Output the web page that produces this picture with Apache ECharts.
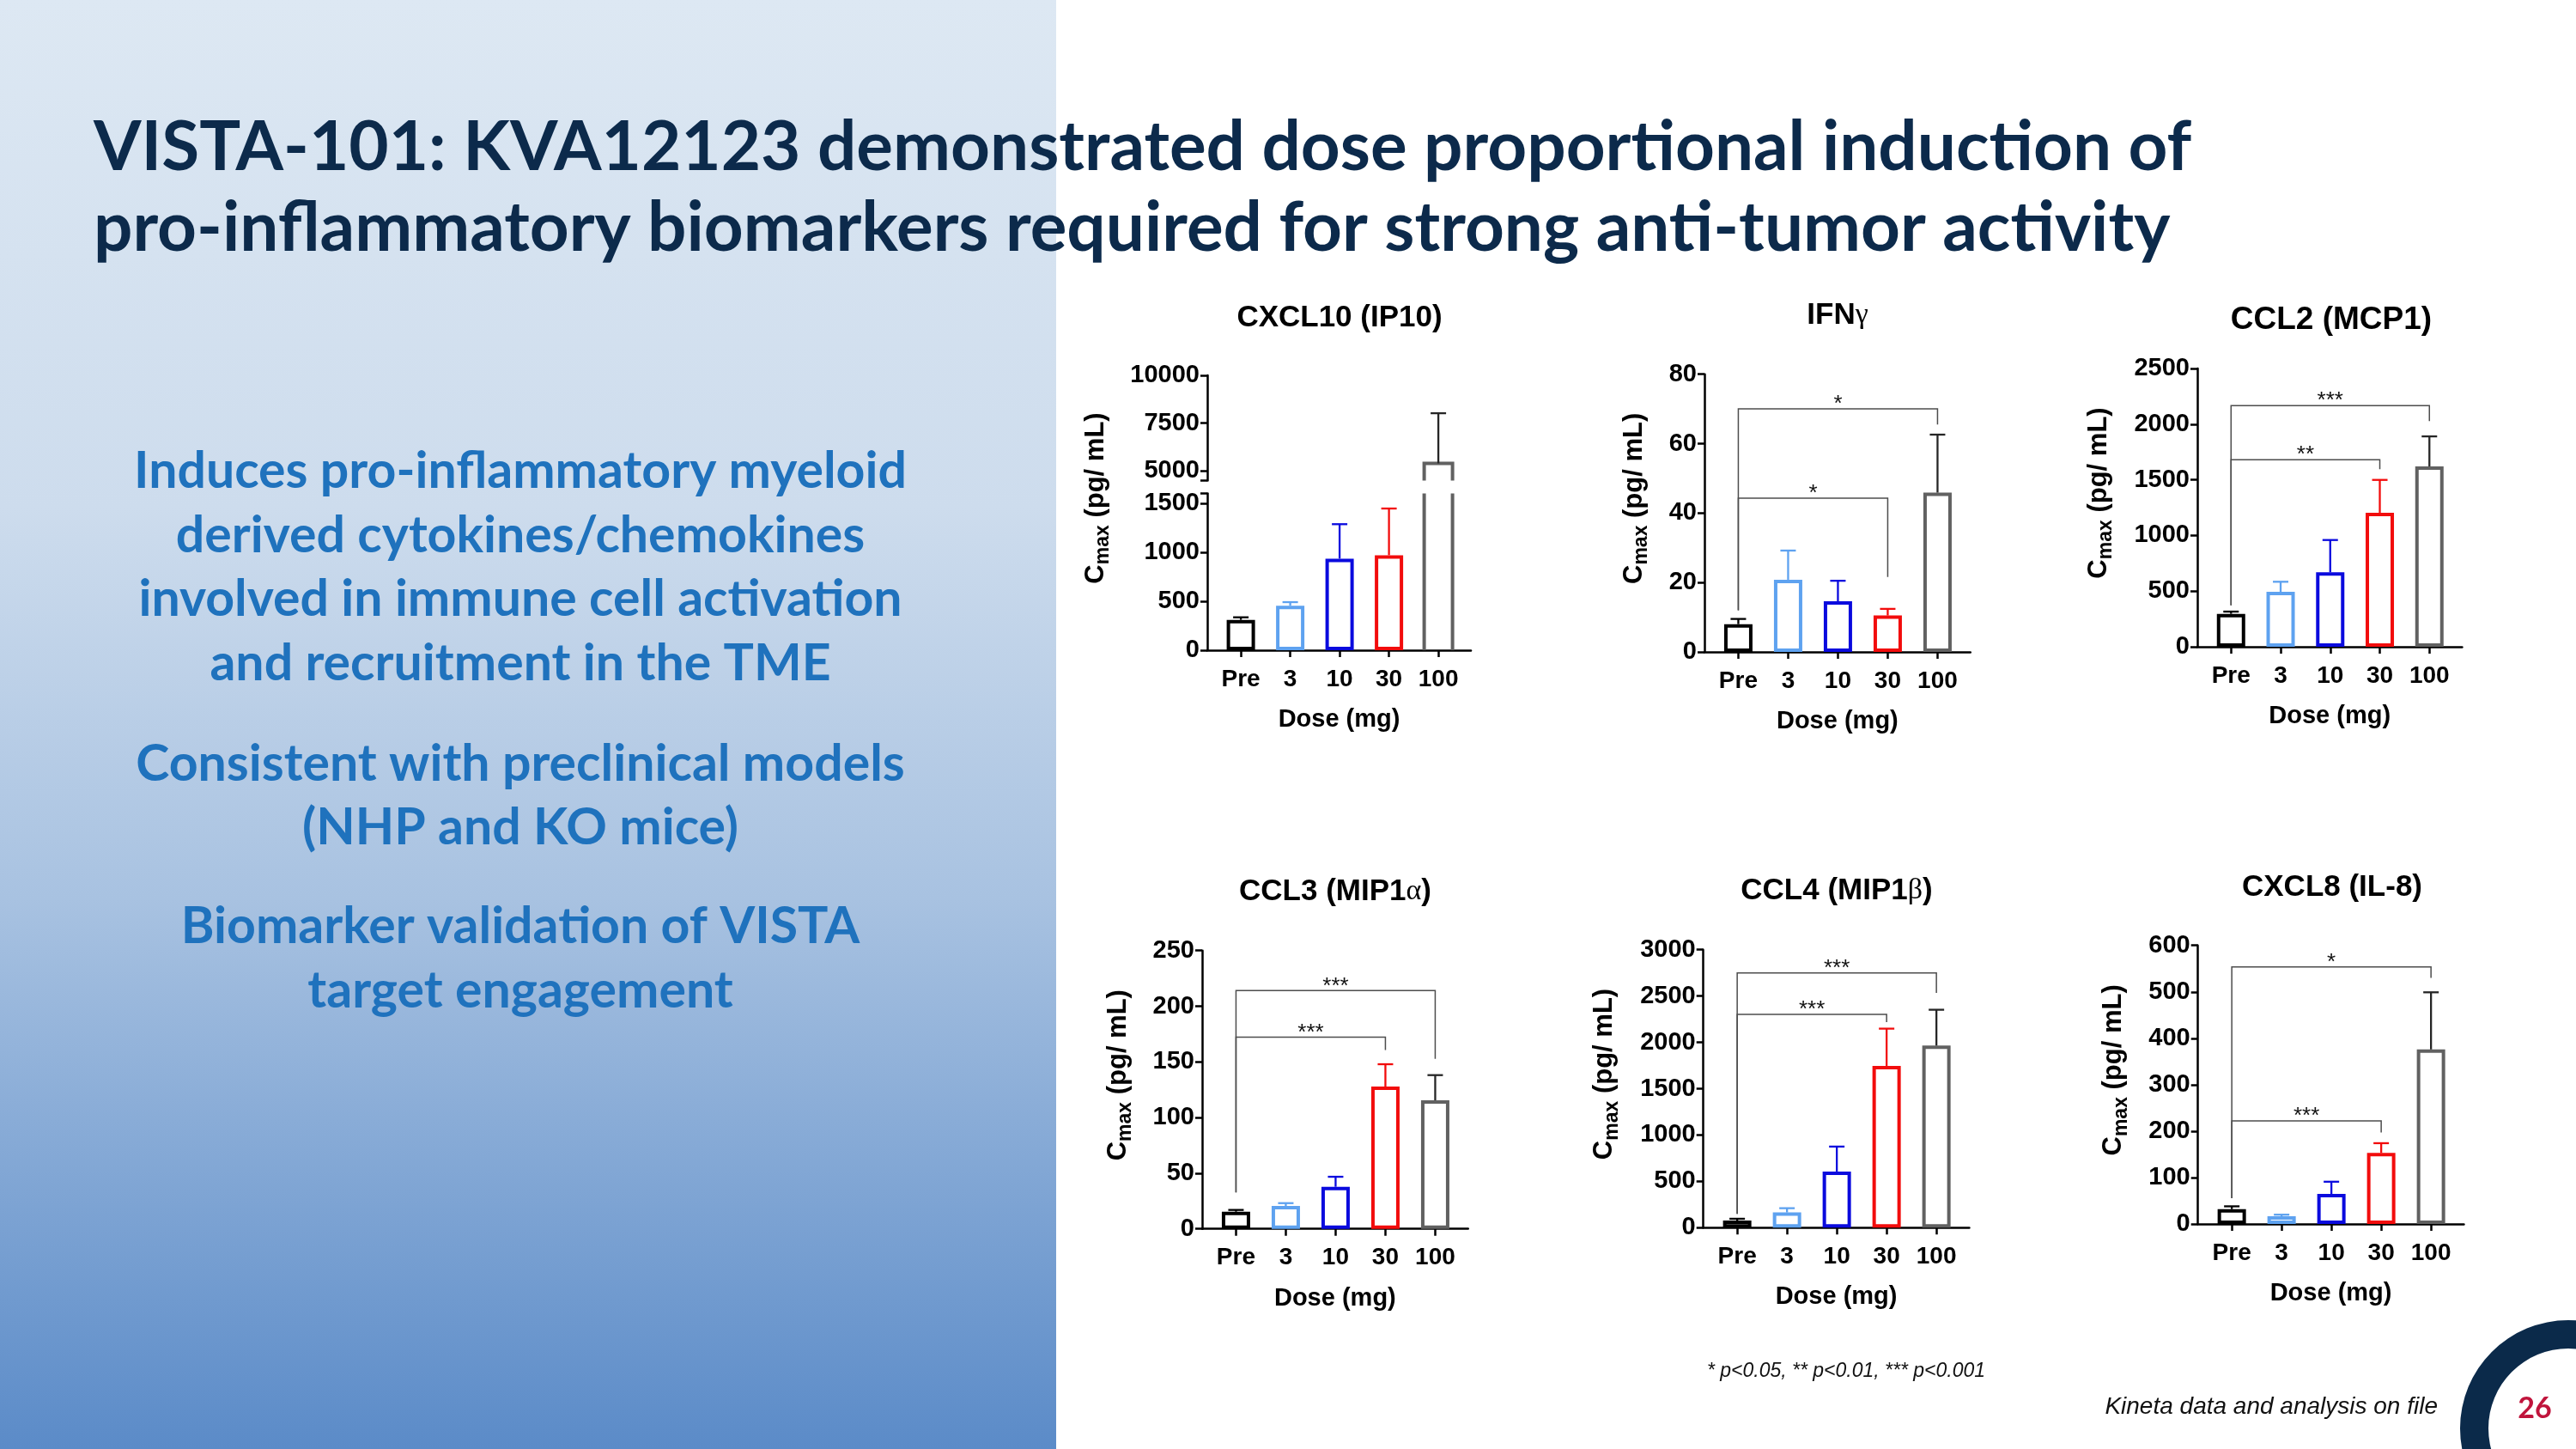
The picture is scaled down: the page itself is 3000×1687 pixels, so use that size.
<!DOCTYPE html>
<html><head><meta charset="utf-8">
<script src="https://cdn.jsdelivr.net/npm/echarts@6.0.0/dist/echarts.min.js"></script>
<style>html,body{margin:0;padding:0;background:#fff}#c{width:3000px;height:1687px}</style>
</head><body><div id="c"></div>
<script>
// ================= DATA =================
const categories = ['Pre', '3', '10', '30', '100'];

const cxcl10Mean  = [310, 455, 935, 970, 5400];
const cxcl10Upper = [336, 491, 1287, 1447, 8020];
const cxcl10TicksLow  = [0, 500, 1000, 1500];
const cxcl10TicksHigh = [5000, 7500, 10000];
const cxcl10BreakLow  = 1600;
const cxcl10BreakHigh = 4500;

const ifngMean  = [8.0, 20.8, 14.6, 10.5, 45.9];
const ifngUpper = [9.5, 29.2, 20.5, 12.4, 62.6];
const ifngTicks = [0, 20, 40, 60, 80];
// [target index, start value, bracket level, end value, label]
const ifngBrackets = [[4, 12, 70, 65.5, '*'], [3, 12, 44.3, 21.6, '*']];

const ccl2Mean  = [296, 494, 669, 1204, 1620];
const ccl2Upper = [316, 584, 959, 1499, 1890];
const ccl2Ticks = [0, 500, 1000, 1500, 2000, 2500];
const ccl2Brackets = [[4, 373, 2166, 2027, '***'], [3, 373, 1680, 1595, '**']];

const ccl3Mean  = [15.4, 20.6, 37.8, 127.8, 115.5];
const ccl3Upper = [17.0, 23.1, 46.8, 147.9, 138.1];
const ccl3Ticks = [0, 50, 100, 150, 200, 250];
const ccl3Brackets = [[4, 32.7, 214, 152.8, '***'], [3, 32.7, 172.3, 160.7, '***']];

const ccl4Mean  = [77, 164, 606, 1746, 1965];
const ccl4Upper = [96, 210, 875, 2148, 2352];
const ccl4Ticks = [0, 500, 1000, 1500, 2000, 2500, 3000];
const ccl4Brackets = [[4, 148, 2750, 2534, '***'], [3, 148, 2302, 2219, '***']];

const cxcl8Mean  = [32, 16.6, 64.7, 153, 376];
const cxcl8Upper = [38, 20, 91, 174, 499];
const cxcl8Ticks = [0, 100, 200, 300, 400, 500, 600];
const cxcl8Brackets = [[4, 55.5, 553.6, 530, '*'], [3, 55.5, 222, 197, '***']];

// ================= STYLE / LAYOUT =================
const FONT = '"Liberation Sans", Arial, Helvetica, sans-serif';
const SLIDE_FONT = 'Lato, "Noto Sans", sans-serif';
const barColors = ['#000000', '#5ea2f0', '#0a0ade', '#f20c0c', '#616161'];
const errColors = ['#000000', '#5ea2f0', '#0a0ade', '#f20c0c', '#262626'];
const BAR_W = 33, BAR_HALF = BAR_W / 2, BORDER = 4, CAP = 9;
const XMIN = -0.68, XMAX = 4.66;

const panels = [
  { title: 'CXCL10 (IP10)', mean: cxcl10Mean, upper: cxcl10Upper, brackets: [],
    x: 1406, spacing: 57.5, titleX: 1560, titleY: 370, nameGap: 110,
    segments: [
      { top: 574.6, bottom: 757, min: 0, max: cxcl10BreakLow, ticks: cxcl10TicksLow.concat([cxcl10BreakLow]), labels: cxcl10TicksLow },
      { top: 437, bottom: 559.5, min: cxcl10BreakHigh, max: cxcl10TicksHigh[cxcl10TicksHigh.length - 1], ticks: [cxcl10BreakHigh].concat(cxcl10TicksHigh), labels: cxcl10TicksHigh }
    ] },
  { title: '{b|IFN}{g|γ}', mean: ifngMean, upper: ifngUpper, brackets: ifngBrackets,
    x: 1985, spacing: 58, titleX: 2140, titleY: 367, nameGap: 62,
    segments: [{ top: 435.7, bottom: 759, ticks: ifngTicks }] },
  { title: 'CCL2 (MCP1)', mean: ccl2Mean, upper: ccl2Upper, brackets: ccl2Brackets,
    x: 2559, spacing: 57.75, titleX: 2715, titleY: 373, nameGap: 95, wideTitle: true,
    segments: [{ top: 429, bottom: 753, ticks: ccl2Ticks }] },
  { title: '{b|CCL3 (MIP1}{g|α}{b|)}', mean: ccl3Mean, upper: ccl3Upper, brackets: ccl3Brackets,
    x: 1400, spacing: 58, titleX: 1555, titleY: 1038, nameGap: 78,
    segments: [{ top: 1106.7, bottom: 1430.7, ticks: ccl3Ticks }] },
  { title: '{b|CCL4 (MIP1}{g|β}{b|)}', mean: ccl4Mean, upper: ccl4Upper, brackets: ccl4Brackets,
    x: 1983.7, spacing: 58, titleX: 2139, titleY: 1037, nameGap: 95,
    segments: [{ top: 1105.7, bottom: 1429.3, ticks: ccl4Ticks }] },
  { title: 'CXCL8 (IL-8)', mean: cxcl8Mean, upper: cxcl8Upper, brackets: cxcl8Brackets,
    x: 2559.7, spacing: 58, titleX: 2716, titleY: 1033, nameGap: 78,
    segments: [{ top: 1100.7, bottom: 1425, ticks: cxcl8Ticks }] }
];

const catIdx = categories.map((c, i) => i);
const yNameText = '{c|C}{s|max}{c| (pg/ mL)}';
const yNameStyle = {
  padding: [0, 0, 0, 34],
  rich: {
    c: { fontFamily: FONT, fontWeight: 'bold', fontSize: 31, lineHeight: 40, color: '#000' },
    s: { fontFamily: FONT, fontWeight: 'bold', fontSize: 23, lineHeight: 20, verticalAlign: 'bottom', color: '#000' }
  }
};

function lineSty(c, w) { return { stroke: c, lineWidth: w }; }

function errRender(params, api) {
  const i = api.value(0), m = api.value(1), u = api.value(2);
  const p0 = api.coord([i, m]), p1 = api.coord([i, u]);
  const c = errColors[i];
  return { type: 'group', children: [
    { type: 'line', shape: { x1: p0[0], y1: p0[1], x2: p1[0], y2: p1[1] }, style: lineSty(c, 2.3) },
    { type: 'line', shape: { x1: p1[0] - CAP, y1: p1[1], x2: p1[0] + CAP, y2: p1[1] }, style: lineSty(c, 2.3) }
  ] };
}

function makeBracketRender(list) {
  return function (params, api) {
    const to = api.value(0), s = api.value(1), lv = api.value(2), e = api.value(3);
    const a = api.coord([0, s]), b = api.coord([0, lv]), c = api.coord([to, lv]), d = api.coord([to, e]);
    return { type: 'group', children: [
      { type: 'polyline', shape: { points: [a, b, c, d] }, style: { stroke: '#4d4d4d', lineWidth: 1.5, fill: null } },
      { type: 'text', x: (b[0] + c[0]) / 2, y: b[1] - 5,
        style: { text: list[params.dataIndex][4], font: '26px ' + FONT, fill: '#111', align: 'center', verticalAlign: 'middle' } }
    ] };
  };
}

// open-bottom bar piece (upper part of a broken bar)
function makeOpenTopRender(base) {
  return function (params, api) {
    const i = api.value(0), v = api.value(1);
    const b = api.coord([i, base]), t = api.coord([i, v]);
    return { type: 'polyline', shape: { points: [[b[0] - BAR_HALF, b[1]], [b[0] - BAR_HALF, t[1]], [b[0] + BAR_HALF, t[1]], [b[0] + BAR_HALF, b[1]]] },
      style: { stroke: barColors[i], lineWidth: BORDER, fill: null } };
  };
}
// side walls only (lower part of a broken bar)
function makeSidesRender(lo, hi) {
  return function (params, api) {
    const i = api.value(0);
    const b = api.coord([i, lo]), t = api.coord([i, hi]);
    return { type: 'group', children: [
      { type: 'line', shape: { x1: b[0] - BAR_HALF, y1: b[1], x2: b[0] - BAR_HALF, y2: t[1] }, style: lineSty(barColors[i], BORDER) },
      { type: 'line', shape: { x1: b[0] + BAR_HALF, y1: b[1], x2: b[0] + BAR_HALF, y2: t[1] }, style: lineSty(barColors[i], BORDER) }
    ] };
  };
}

const grids = [], xAxes = [], yAxes = [], series = [], titles = [];
const axisLineStyle = { color: '#000', width: 2.5 };

function baseX(gi, show) {
  return {
    gridIndex: gi, type: 'value', min: XMIN, max: XMAX, show: show,
    axisLine: { show: true, onZero: false, lineStyle: axisLineStyle },
    axisTick: { show: true, inside: false, length: 8, lineStyle: axisLineStyle, customValues: catIdx },
    axisLabel: { show: true, customValues: catIdx, formatter: v => categories[Math.round(v)], margin: 20,
      fontFamily: FONT, fontWeight: 'bold', fontSize: 28, color: '#000' },
    splitLine: { show: false },
    name: show ? 'Dose (mg)' : '', nameLocation: 'middle', nameGap: 64, nameMoveOverlap: false,
    nameTextStyle: { fontFamily: FONT, fontWeight: 'bold', fontSize: 29, lineHeight: 34, color: '#000' }
  };
}
function baseY(gi, s, withName, nameGap) {
  return {
    gridIndex: gi, type: 'value', min: s.min, max: s.max,
    axisLine: { show: true, onZero: false, lineStyle: axisLineStyle },
    axisTick: { show: true, inside: false, length: 8, lineStyle: axisLineStyle, customValues: s.ticks },
    axisLabel: { show: true, customValues: s.labels, formatter: v => String(v), margin: 9,
      fontFamily: FONT, fontWeight: 'bold', fontSize: 29, color: '#000' },
    splitLine: { show: false },
    name: withName ? yNameText : '', nameLocation: 'middle', nameRotate: 90, nameGap: nameGap, nameMoveOverlap: false,
    nameTextStyle: yNameStyle
  };
}

panels.forEach(p => {
  const width = 5.34 * p.spacing;
  titles.push({
    text: p.title, left: p.titleX, top: p.titleY, textAlign: 'center', textVerticalAlign: 'middle', padding: 0,
    textStyle: { fontFamily: FONT, fontWeight: 'bold', fontSize: p.wideTitle ? 37 : 35, color: '#000',
      rich: { b: { fontFamily: FONT, fontWeight: 'bold', fontSize: 35, color: '#000' },
              g: { fontFamily: '"Liberation Serif", "DejaVu Serif", serif', fontWeight: 'normal', fontSize: 34, color: '#000' } } }
  });
  const broken = p.segments.length > 1;
  p.segments.forEach((s, k) => {
    if (s.min === undefined) { s.min = s.ticks[0]; s.max = s.ticks[s.ticks.length - 1]; s.labels = s.ticks; }
    const gi = grids.length;
    grids.push({ left: p.x, top: s.top, width: width, height: s.bottom - s.top, containLabel: false, outerBoundsMode: 'none' });
    xAxes.push(baseX(gi, k === 0));
    yAxes.push(baseY(gi, s, !broken, p.nameGap));
    const common = { xAxisIndex: gi, yAxisIndex: gi, silent: true };
    const pts = p.mean.map((v, i) => [i, v, p.upper[i]]);
    if (k === 0) {
      series.push(Object.assign({
        type: 'bar', barWidth: BAR_W, z: 2,
        itemStyle: { color: 'rgba(0,0,0,0)', borderWidth: BORDER },
        data: pts.filter(d => d[1] <= s.max).map(d => ({ value: [d[0], d[1]], itemStyle: { borderColor: barColors[d[0]] } }))
      }, common));
      const over = pts.filter(d => d[1] > s.max);
      if (over.length) series.push(Object.assign({ type: 'custom', z: 2, renderItem: makeSidesRender(s.min, s.max), data: over }, common));
      series.push(Object.assign({ type: 'custom', z: 3, renderItem: errRender, data: pts.filter(d => d[1] <= s.max) }, common));
    } else {
      const over = pts.filter(d => d[1] > s.min);
      series.push(Object.assign({ type: 'custom', z: 2, renderItem: makeOpenTopRender(s.min), data: over.map(d => [d[0], d[1]]) }, common));
      series.push(Object.assign({ type: 'custom', z: 3, renderItem: errRender, data: over }, common));
    }
    if (k === 0 && p.brackets.length) {
      series.push(Object.assign({ type: 'custom', z: 4, renderItem: makeBracketRender(p.brackets),
        data: p.brackets.map(b => b.slice(0, 4)) }, common));
    }
  });
  if (broken) {
    // helper grid spanning the whole broken axis, used only for the axis title
    const topSeg = p.segments[p.segments.length - 1], botSeg = p.segments[0];
    const gi = grids.length;
    grids.push({ left: p.x, top: topSeg.top, width: width, height: botSeg.bottom - topSeg.top, containLabel: false, outerBoundsMode: 'none' });
    xAxes.push({ gridIndex: gi, type: 'value', show: false, min: XMIN, max: XMAX });
    yAxes.push({ gridIndex: gi, type: 'value', min: 0, max: 1, axisLine: { show: false }, axisTick: { show: false },
      axisLabel: { show: false }, splitLine: { show: false },
      name: yNameText, nameLocation: 'middle', nameRotate: 90, nameGap: p.nameGap, nameMoveOverlap: false, nameTextStyle: yNameStyle });
  }
});

// ================= SLIDE DECORATION =================
const leftLines = [
  ['Induces pro-inflammatory myeloid', 547],
  ['derived cytokines/chemokines', 622],
  ['involved in immune cell activation', 696],
  ['and recruitment in the TME', 771],
  ['Consistent with preclinical models', 888],
  ['(NHP and KO mice)', 962],
  ['Biomarker validation of VISTA', 1077],
  ['target engagement', 1152]
];
const graphics = [
  { type: 'rect', z: -10, shape: { x: 0, y: 0, width: 1230, height: 1687 },
    style: { fill: new echarts.graphic.LinearGradient(0, 0, 0, 1, [
      { offset: 0, color: '#dde8f3' }, { offset: 0.35, color: '#cddced' },
      { offset: 0.62, color: '#a8c2e1' }, { offset: 1, color: '#5b8bc8' }]) } },
  { type: 'text', x: 109, y: 172, style: { text: 'VISTA-101: KVA12123 demonstrated dose proportional induction of',
      font: 'bold 80px ' + SLIDE_FONT, fill: '#0c2a4b', align: 'left', verticalAlign: 'middle' } },
  { type: 'text', x: 109, y: 266, style: { text: 'pro-inflammatory biomarkers required for strong anti-tumor activity',
      font: 'bold 80px ' + SLIDE_FONT, fill: '#0c2a4b', align: 'left', verticalAlign: 'middle' } },
  { type: 'text', x: 2150, y: 1597, style: { text: '* p<0.05, ** p<0.01, *** p<0.001',
      font: 'italic 23px ' + FONT, fill: '#111', align: 'center', verticalAlign: 'middle' } },
  { type: 'text', x: 2839, y: 1638, style: { text: 'Kineta data and analysis on file',
      font: 'italic 28px ' + FONT, fill: '#111', align: 'right', verticalAlign: 'middle' } },
  { type: 'ring', shape: { cx: 2991, cy: 1663, r: 126, r0: 93 }, style: { fill: '#0b2a4a' } },
  { type: 'text', x: 2952, y: 1640, style: { text: '26', font: 'bold 34px ' + SLIDE_FONT, fill: '#c0143c', align: 'center', verticalAlign: 'middle' } }
];
leftLines.forEach(l => graphics.push({ type: 'text', x: 606, y: l[1] + 2,
  style: { text: l[0], font: 'bold 59px ' + SLIDE_FONT, fill: '#1f72bd', align: 'center', verticalAlign: 'middle' } }));

const chart = echarts.init(document.getElementById('c'), null, { renderer: 'canvas' });
chart.setOption({
  animation: false,
  backgroundColor: '#ffffff',
  textStyle: { fontFamily: FONT },
  title: titles,
  grid: grids,
  xAxis: xAxes,
  yAxis: yAxes,
  series: series,
  graphic: graphics
});
</script></body></html>
